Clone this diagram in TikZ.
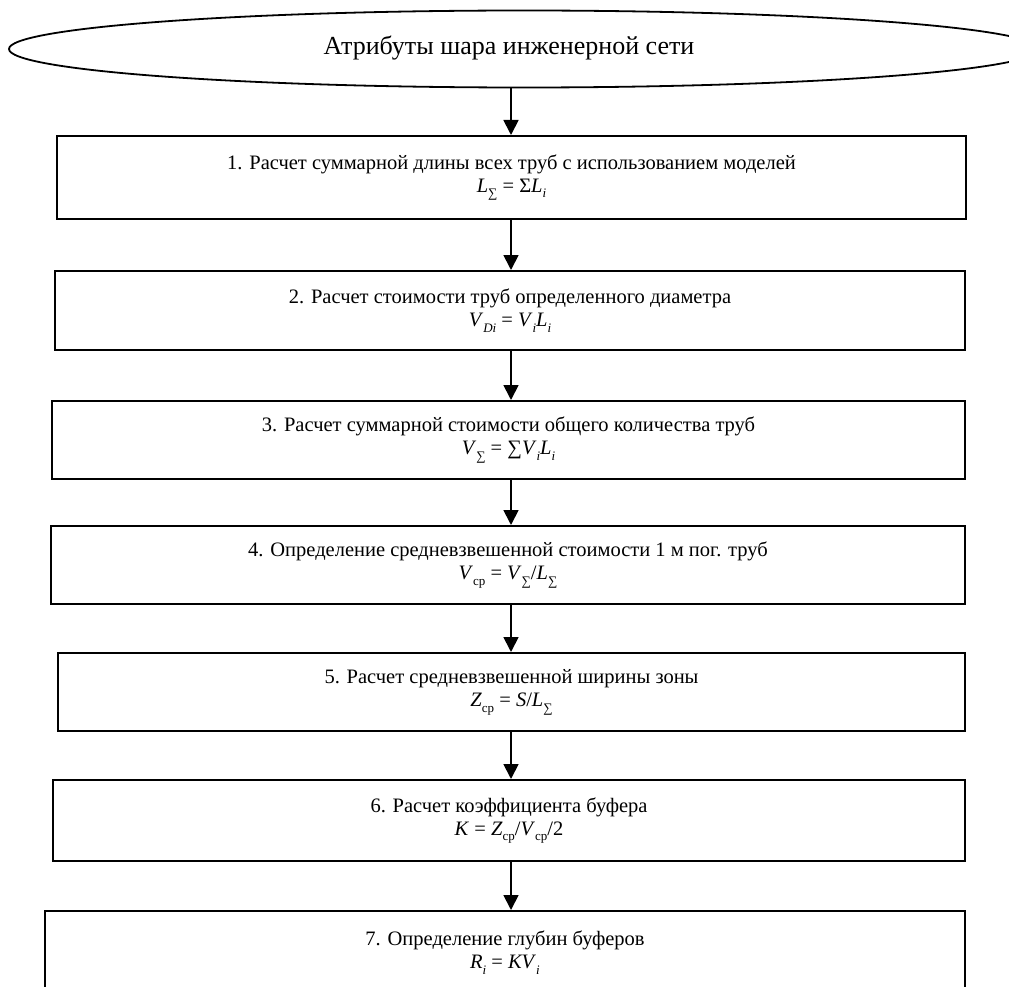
\documentclass[tikz,border=0pt]{standalone}
\usepackage{fontspec}
\setmainfont{Liberation Serif}
\usetikzlibrary{shapes.geometric,arrows.meta}
\newcommand{\lsub}[1]{\raisebox{-0.28em}{\fontsize{13}{13}\selectfont #1}}
\tikzset{
  stepbox/.style={draw, line width=2pt, rectangle, inner sep=0pt, align=center,
    font=\fontsize{20.5}{23}\selectfont},
  arr/.style={line width=1.8pt, -{Triangle[width=15pt,length=15pt]}},
}
\begin{document}
\begin{tikzpicture}[x=1pt,y=-1pt]
\useasboundingbox (0,0) rectangle (1009,987);
\clip (0,0) rectangle (1009,987);
\node[draw, ellipse, line width=1.8pt, inner sep=0pt, minimum width=1030pt, minimum height=77pt] (e) at (524,49) {};
\node[font=\fontsize{26}{30}\selectfont, inner sep=0pt] (et) at (509,48) {Атрибуты шара инженерной сети};
\node[stepbox, minimum width=909pt, minimum height=83pt] (b1) at (511.5,177.5)
  {1. Расчет суммарной длины всех труб с использованием моделей\\
   \textit{L}\lsub{∑} = Σ\textit{L}\lsub{\textit{i}}};
\node[stepbox, minimum width=910pt, minimum height=79pt] (b2) at (510,310.5)
  {2. Расчет стоимости труб определенного диаметра\\
   \textit{V}\lsub{\textit{Di}} = \textit{V}\lsub{\textit{i}}\textit{L}\lsub{\textit{i}}};
\node[stepbox, minimum width=913pt, minimum height=78pt] (b3) at (508.5,440)
  {3. Расчет суммарной стоимости общего количества труб\\
   \textit{V}\lsub{∑} = ∑\textit{V}\lsub{\textit{i}}\textit{L}\lsub{\textit{i}}};
\node[stepbox, minimum width=914pt, minimum height=78pt] (b4) at (508,565)
  {4. Определение средневзвешенной стоимости 1 м пог. труб\\
   \textit{V}\lsub{ср} = \textit{V}\lsub{∑}/\textit{L}\lsub{∑}};
\node[stepbox, minimum width=907pt, minimum height=78pt] (b5) at (511.5,692)
  {5. Расчет средневзвешенной ширины зоны\\
   \textit{Z}\lsub{ср} = \textit{S}/\textit{L}\lsub{∑}};
\node[stepbox, minimum width=912pt, minimum height=81pt] (b6) at (509,820.5)
  {6. Расчет коэффициента буфера\\
   \textit{К} = \textit{Z}\lsub{ср}/\textit{V}\lsub{ср}/2};
\node[stepbox, minimum width=920pt, minimum height=84pt] (b7) at (505,953)
  {7. Определение глубин буферов\\
   \textit{R}\lsub{\textit{i}} = \textit{КV}\lsub{\textit{i}}};
\coordinate (ax) at (511,0);
\draw[arr] (e.south -| ax) -- (b1.north -| ax);
\draw[arr] (b1.south -| ax) -- (b2.north -| ax);
\draw[arr] (b2.south -| ax) -- (b3.north -| ax);
\draw[arr] (b3.south -| ax) -- (b4.north -| ax);
\draw[arr] (b4.south -| ax) -- (b5.north -| ax);
\draw[arr] (b5.south -| ax) -- (b6.north -| ax);
\draw[arr] (b6.south -| ax) -- (b7.north -| ax);
\end{tikzpicture}
\end{document}
